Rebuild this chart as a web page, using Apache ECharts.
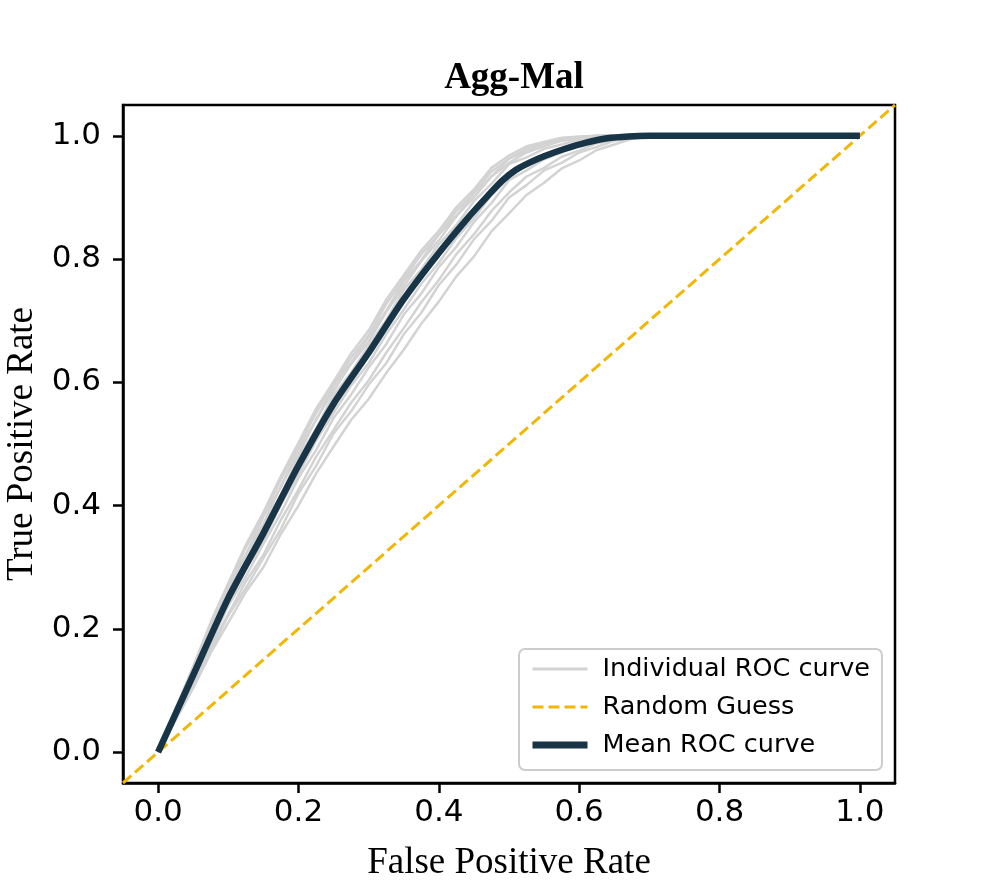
<!DOCTYPE html>
<html>
<head>
<meta charset="utf-8">
<script src="https://cdn.jsdelivr.net/npm/echarts@6/dist/echarts.min.js"></script>
<style>html,body{margin:0;padding:0;background:#fff}#c{width:995px;height:880px}</style>
</head>
<body>
<div id="c"></div>
<script>
var tickValues = [0.0, 0.2, 0.4, 0.6, 0.8, 1.0];
var fprGrid = [0, 0.025, 0.05, 0.075, 0.1, 0.125, 0.15, 0.175, 0.2, 0.225, 0.25, 0.275, 0.3, 0.325, 0.35, 0.375, 0.4, 0.425, 0.45, 0.475, 0.5, 0.525, 0.55, 0.575, 0.6, 0.625, 0.65, 0.675, 0.7, 1.0];
var meanFpr = [0, 0.05, 0.1, 0.15, 0.2, 0.25, 0.3, 0.35, 0.4, 0.44, 0.47, 0.49, 0.51, 0.53, 0.55, 0.58, 0.61, 0.64, 0.67, 0.7, 1.0];
var meanTpr = [0, 0.125, 0.25, 0.355, 0.465, 0.565, 0.648, 0.735, 0.81, 0.865, 0.903, 0.927, 0.945, 0.957, 0.967, 0.979, 0.989, 0.996, 0.999, 1.0, 1.0];
var curve1 = [0, 0.068, 0.138, 0.206, 0.268, 0.332, 0.384, 0.442, 0.496, 0.55, 0.596, 0.64, 0.677, 0.727, 0.768, 0.808, 0.84, 0.878, 0.908, 0.942, 0.963, 0.979, 0.987, 0.995, 0.998, 1, 1, 1, 1, 1];
var curve2 = [0, 0.066, 0.131, 0.199, 0.26, 0.32, 0.37, 0.432, 0.483, 0.54, 0.586, 0.63, 0.666, 0.714, 0.756, 0.797, 0.83, 0.87, 0.9, 0.934, 0.956, 0.973, 0.983, 0.992, 0.996, 0.999, 1, 1, 1, 1];
var curve3 = [0, 0.07, 0.136, 0.198, 0.27, 0.32, 0.382, 0.43, 0.492, 0.538, 0.594, 0.632, 0.674, 0.716, 0.764, 0.798, 0.84, 0.87, 0.907, 0.934, 0.963, 0.975, 0.988, 0.992, 0.997, 1, 1, 1, 1, 1];
var curve4 = [0, 0.063, 0.131, 0.192, 0.259, 0.308, 0.367, 0.418, 0.478, 0.525, 0.579, 0.616, 0.66, 0.701, 0.75, 0.783, 0.824, 0.855, 0.894, 0.922, 0.954, 0.965, 0.979, 0.986, 0.994, 0.997, 0.999, 1, 1, 1];
var curve5 = [0, 0.061, 0.119, 0.184, 0.24, 0.297, 0.343, 0.402, 0.451, 0.505, 0.55, 0.595, 0.631, 0.678, 0.718, 0.76, 0.794, 0.834, 0.866, 0.904, 0.932, 0.953, 0.964, 0.978, 0.985, 0.993, 0.997, 0.999, 1, 1];
var curve6 = [0, 0.057, 0.119, 0.176, 0.238, 0.285, 0.338, 0.388, 0.445, 0.49, 0.542, 0.58, 0.624, 0.662, 0.71, 0.744, 0.787, 0.82, 0.86, 0.891, 0.928, 0.944, 0.962, 0.973, 0.985, 0.99, 0.996, 0.999, 1, 1];
var curve7 = [0, 0.056, 0.111, 0.171, 0.224, 0.277, 0.32, 0.377, 0.426, 0.479, 0.523, 0.567, 0.603, 0.648, 0.688, 0.73, 0.766, 0.808, 0.84, 0.878, 0.908, 0.934, 0.948, 0.966, 0.976, 0.988, 0.993, 0.998, 1, 1];
var curve8 = [0, 0.053, 0.111, 0.165, 0.222, 0.266, 0.315, 0.362, 0.42, 0.464, 0.517, 0.553, 0.596, 0.631, 0.678, 0.713, 0.758, 0.791, 0.832, 0.862, 0.9, 0.92, 0.944, 0.956, 0.973, 0.982, 0.992, 0.996, 1, 1];
var curve9 = [0, 0.052, 0.104, 0.161, 0.21, 0.26, 0.3, 0.354, 0.4, 0.452, 0.496, 0.539, 0.573, 0.615, 0.653, 0.695, 0.731, 0.772, 0.804, 0.845, 0.874, 0.904, 0.924, 0.947, 0.96, 0.977, 0.986, 0.995, 0.999, 1];
var curve10 = [0, 0.071, 0.139, 0.211, 0.274, 0.336, 0.389, 0.448, 0.502, 0.557, 0.601, 0.647, 0.684, 0.734, 0.774, 0.814, 0.846, 0.884, 0.913, 0.948, 0.968, 0.983, 0.99, 0.997, 0.999, 1, 1, 1, 1, 1];
var individualCurves = [curve1, curve2, curve3, curve4, curve5, curve6, curve7, curve8, curve9, curve10];
var diagX = [-0.05, 1.05];
var diagY = [-0.05, 1.05];

function zip(xs, ys) { return xs.map(function (x, i) { return [x, ys[i]]; }); }

var series = individualCurves.map(function (c) {
  return {
    name: 'Individual ROC curve', type: 'line', symbol: 'none', silent: true,
    data: zip(fprGrid, c),
    lineStyle: { color: '#d3d3d3', width: 2.5 }, itemStyle: { color: '#d3d3d3' }, z: 2
  };
});
series.push({
  name: 'Random Guess', type: 'line', symbol: 'none', silent: true,
  data: zip(diagX, diagY),
  lineStyle: { color: '#f2b705', width: 3, type: [11, 5] }, itemStyle: { color: '#f2b705' }, z: 3
});
series.push({
  name: 'Mean ROC curve', type: 'line', symbol: 'none', silent: true,
  smooth: 0.25,
  data: zip(meanFpr, meanTpr),
  lineStyle: { color: '#183447', width: 6.5 }, itemStyle: { color: '#183447' }, z: 4
});

var chart = echarts.init(document.getElementById('c'), null, { renderer: 'canvas' });
var tickFont = { fontFamily: 'DejaVu Sans', fontSize: 31, color: '#000' };
chart.setOption({
  animation: false,
  backgroundColor: '#fff',
  title: {
    text: 'Agg-Mal', left: 509, top: 55, textAlign: 'center',
    textStyle: { fontFamily: 'Liberation Serif', fontWeight: 'bold', fontSize: 37, color: '#000' }
  },
  grid: { left: 123, right: 100, top: 105, bottom: 97, outerBoundsMode: 'none', containLabel: false, show: true, borderColor: '#000', borderWidth: 2.5, backgroundColor: 'transparent' },
  xAxis: {
    type: 'value', min: -0.05, max: 1.05,
    name: 'False Positive Rate', nameLocation: 'middle', nameGap: 62,
    nameTextStyle: { fontFamily: 'Liberation Serif', fontSize: 37, color: '#000' },
    axisLine: { show: true, onZero: false, lineStyle: { color: '#000', width: 2.5 } },
    axisTick: { show: true, inside: false, length: 10, lineStyle: { color: '#000', width: 2.5 }, customValues: tickValues },
    axisLabel: Object.assign({ margin: 14, customValues: tickValues, formatter: function (v) { return v.toFixed(1); } }, tickFont),
    splitLine: { show: false }
  },
  yAxis: {
    type: 'value', min: -0.05, max: 1.05,
    name: 'True Positive Rate', nameLocation: 'middle', nameGap: 82,
    nameTextStyle: { fontFamily: 'Liberation Serif', fontSize: 37, color: '#000' },
    axisLine: { show: true, onZero: false, lineStyle: { color: '#000', width: 2.5 } },
    axisTick: { show: true, inside: false, length: 10, lineStyle: { color: '#000', width: 2.5 }, customValues: tickValues },
    axisLabel: Object.assign({ margin: 22, customValues: tickValues, formatter: function (v) { return v.toFixed(1); } }, tickFont),
    splitLine: { show: false }
  },
  legend: {
    orient: 'vertical', left: 519, top: 649,
    data: [
      { name: 'Individual ROC curve', lineStyle: { width: 3 } },
      { name: 'Random Guess', lineStyle: { width: 3 } },
      { name: 'Mean ROC curve', lineStyle: { width: 7 } }
    ],
    itemWidth: 55, itemHeight: 14, itemGap: 8,
    itemStyle: { opacity: 0 },
    padding: [5, 12, 10, 10],
    backgroundColor: 'rgba(255,255,255,0.8)', borderColor: '#cccccc', borderWidth: 2, borderRadius: 6,
    textStyle: { fontFamily: 'DejaVu Sans', fontSize: 25.5, color: '#000', lineHeight: 30, padding: [0, 0, 0, 10] },
    selectedMode: false
  },
  series: series
});
</script>
</body>
</html>
